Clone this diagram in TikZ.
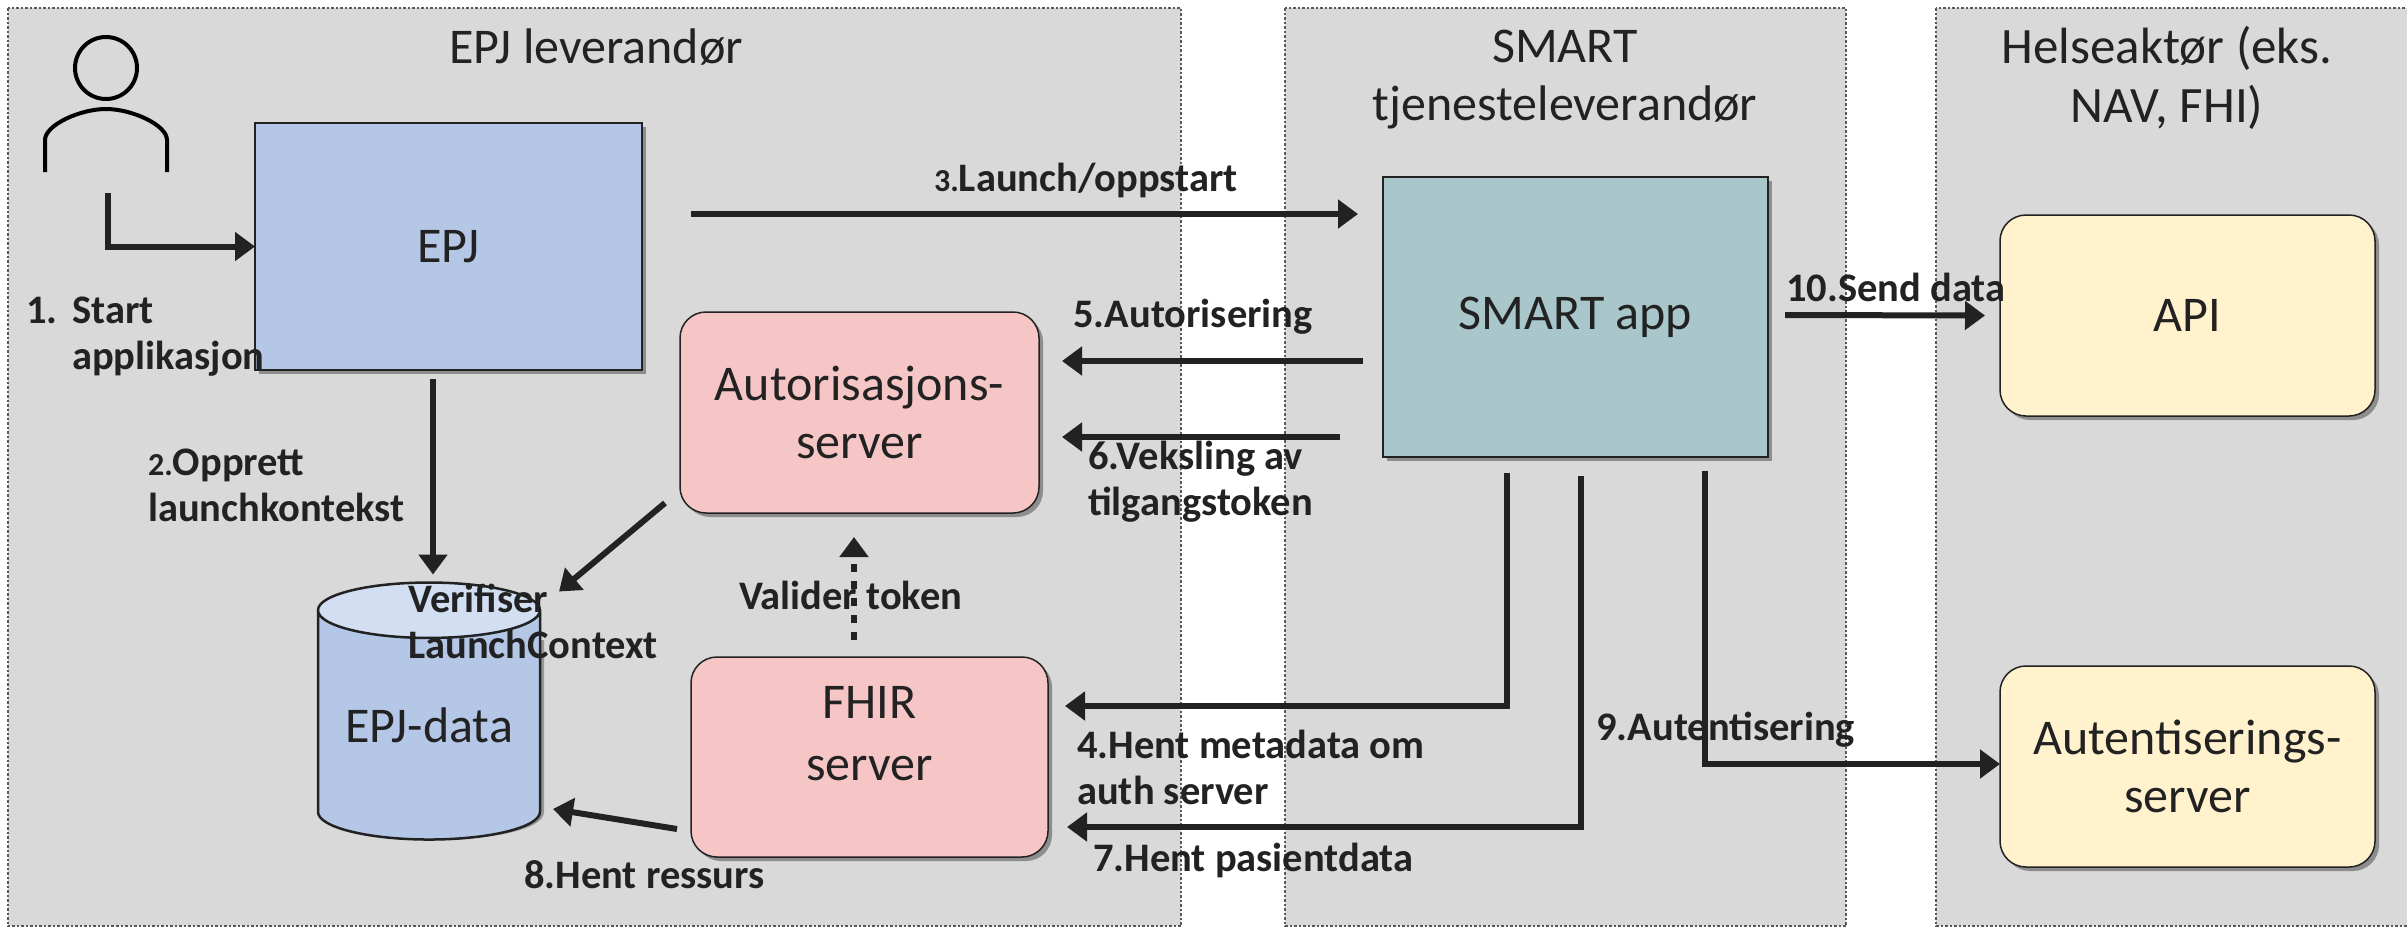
\documentclass[tikz,border=0pt]{standalone}
\usepackage{fontspec}
\setmainfont{Carlito}
\usetikzlibrary{positioning}
\usetikzlibrary{arrows.meta}
\usetikzlibrary{shapes.geometric}
\usetikzlibrary{shadows}
\colorlet{panelc}{black!15}
\definecolor{epjc}{HTML}{B4C7E7}
\definecolor{epjtopc}{HTML}{D2DEF2}
\definecolor{serverc}{HTML}{F6C6C6}
\definecolor{smartc}{HTML}{A9C7CB}
\definecolor{extc}{HTML}{FFF2CC}
\definecolor{inkc}{HTML}{222222}
\tikzset{
  panel/.style={draw=black!65,fill=panelc,line width=2.5pt,dotted},
  paneltitle/.style={font=\fontsize{50}{58}\selectfont,text=inkc,align=center},
  softshadow/.style={drop shadow={shadow xshift=4pt,shadow yshift=-4pt,fill=black,opacity=.35}},
  squarebox/.style={rectangle,draw=inkc,line width=2.5pt,inner sep=0pt,outer sep=0pt,softshadow,font=\fontsize{50}{58}\selectfont,text=inkc,align=center},
  roundbox/.style={squarebox,rounded corners=26pt,line width=1.5pt},
  conn/.style={draw=inkc,line width=6pt,-{Triangle[length=20pt,width=28pt]}},
  steplabel/.style={font=\fontsize{40.5}{46}\selectfont\bfseries,text=inkc,align=left,inner sep=0pt,anchor=west}
}
\newcommand{\smallnum}[1]{{\fontsize{32}{34}\selectfont #1}}

\begin{document}
\begin{tikzpicture}[x=1pt,y=-1pt]
\useasboundingbox (0,0) rectangle (2407,927);

\filldraw[panel] (8,8) rectangle (1181,926);
\filldraw[panel] (1285,8) rectangle (1846,926);
\filldraw[panel] (1936,8) rectangle (2420,926);
\node[paneltitle] (epjtitle) at (596,47) {EPJ leverandør};
\node[paneltitle] (smarttitle) at (1565,80) {SMART\\tjenesteleverandør};
\node[paneltitle,font=\fontsize{51}{59}\selectfont] (helsetitle) at (2167,78) {Helseaktør (eks.\\NAV, FHI)};

\node[squarebox,fill=epjc,minimum width=387pt,minimum height=247pt] (epj) at (448.5,246.5) {EPJ};
\node[squarebox,fill=smartc,minimum width=385pt,minimum height=280pt] (smart) at (1575.5,317) {SMART app};
\node[roundbox,fill=serverc,minimum width=359pt,minimum height=201pt] (auth) at (859.5,412.5) {Autorisasjons-\\server};
\node[roundbox,fill=serverc,minimum width=357pt,minimum height=200pt] (fhir) at (869.5,757) {FHIR\\[4pt]server\\[-10pt]\mbox{}};
\node[roundbox,fill=extc,minimum width=375pt,minimum height=201pt] (api) at (2187.5,315.5) {API};
\node[roundbox,fill=extc,minimum width=375pt,minimum height=201pt] (authn) at (2187.5,766.5) {Autentiserings-\\server};
\fill[black,opacity=.3] (322,640) -- (322,812) .. controls (322,849) and (544,849) .. (544,812) -- (544,640) -- cycle;
\node[cylinder,shape border rotate=90,aspect=0.33,draw=inkc,line width=2.5pt,inner sep=0pt,outer sep=0pt,
  cylinder uses custom fill,cylinder body fill=epjc,cylinder end fill=epjtopc,
  minimum width=222pt,minimum height=257pt,font=\fontsize{50}{58}\selectfont,text=inkc] (epjdata) at (429,725.5) {EPJ-data};

\node[circle,draw=black,line width=4pt,minimum size=62pt,inner sep=0pt] (head) at (106,68) {};
\draw[black,line width=4pt] (45,172) -- (45,140) .. controls (45,125) and (80,109) .. (106,109)
  .. controls (132,109) and (167,125) .. (167,140) -- (167,172);
\coordinate (userfoot) at (108,193);

\draw[conn] (userfoot) |- (epj.west);
\draw[conn] ([xshift=49pt,yshift=32.5pt]epj.east) -- ([xshift=-25pt,yshift=103pt]smart.west);
\draw[conn] ([xshift=-20pt,yshift=-44pt]smart.west) -- ([xshift=23pt,yshift=51.5pt]auth.east);
\draw[conn] ([xshift=-43pt,yshift=-120pt]smart.west) -- ([xshift=23pt,yshift=-24.5pt]auth.east);
\draw[conn] ([xshift=17pt,yshift=2pt]smart.east) -- ([xshift=-15pt]api.west);
\draw[conn] ([xshift=-15.5pt,yshift=-9pt]epj.south) -- ([xshift=4pt,yshift=8pt]epjdata.north);
\draw[conn] ([xshift=-15pt,yshift=10pt]auth.south west) -- ([xshift=19pt,yshift=134pt]epjdata.east);
\draw[conn,dotted,line cap=butt,dash pattern=on 8pt off 9pt] ([xshift=-15.5pt,yshift=17pt]fhir.north) -- ([xshift=-5.5pt,yshift=-24pt]auth.south);
\draw[conn] ([xshift=-14pt,yshift=28pt]fhir.south west) -- ([xshift=13pt,yshift=-83.5pt]epjdata.east);
\draw[conn] ([xshift=-68.5pt,yshift=-16pt]smart.south) |- ([xshift=17pt,yshift=51pt]fhir.east);
\draw[conn] ([xshift=5.5pt,yshift=-19pt]smart.south) |- ([xshift=19pt,yshift=-70pt]fhir.east);
\draw[conn] ([xshift=129.5pt,yshift=-14pt]smart.south) |- ([yshift=2.5pt]authn.west);

\node[steplabel] (lbstart) at (26,337) {1.\hspace{15pt}Start\\\hspace{46pt}applikasjon};
\node[steplabel] (lbopprett) at (148,485) {\smallnum{2.}Opprett\\launchkontekst};
\node[steplabel] (lblaunch) at (934,180) {\smallnum{3.}Launch/oppstart};
\node[steplabel] (lbmeta) at (1077,767) {4.Hent metadata om\\auth server};
\node[steplabel] (lbautor) at (1073,317) {5.Autorisering};
\node[steplabel] (lbveksl) at (1088,482) {6.Veksling av\\tilgangstoken};
\node[steplabel] (lbpasient) at (1093,860) {7.Hent pasientdata};
\node[steplabel] (lbressurs) at (524,875) {8.Hent ressurs};
\node[steplabel] (lbautent) at (1596,730) {9.Autentisering};
\node[steplabel] (lbsend) at (1786,287) {10.Send data};
\node[steplabel] (lbverif) at (408,621) {Verifiser\\LaunchContext};
\node[steplabel] (lbvalid) at (739,595) {Valider token};
\end{tikzpicture}
\end{document}
